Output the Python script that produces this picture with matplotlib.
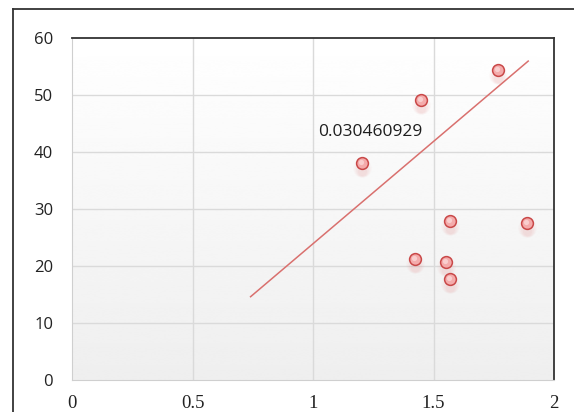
import numpy as np
import matplotlib
matplotlib.use('Agg')
import matplotlib.pyplot as plt
from matplotlib.lines import Line2D
from matplotlib.transforms import offset_copy

# scatter data
x_vals = [1.769, 1.448, 1.203, 1.567, 1.888, 1.423, 1.551, 1.567]
y_vals = [54.3, 49.0, 38.0, 27.9, 27.6, 21.2, 20.6, 17.7]

# trend line endpoints
trend_x = [0.741, 1.893]
trend_y = [14.6, 55.9]

label_text = '0.030460929'
label_pos = (1.02, 43.5)

x_ticks = [0, 0.5, 1, 1.5, 2]
x_labels = ['0', '0.5', '1', '1.5', '2']
y_ticks = [0, 10, 20, 30, 40, 50, 60]

W, H = 574, 412
fig = plt.figure(figsize=(W / 100, H / 100), dpi=100, facecolor='white')
ax = fig.add_axes([72 / W, 1 - 380 / H, (554 - 72) / W, (380 - 37.7) / H])

# vertical white -> light grey gradient behind the plot
grad = np.linspace(1.0, 0.935, 256).reshape(-1, 1)
ax.imshow(grad, cmap='gray', vmin=0, vmax=1, extent=[0, 2, 0, 60],
          origin='upper', aspect='auto', zorder=0, interpolation='bicubic')
ax.set_xlim(0, 2)
ax.set_ylim(0, 60)

for v in [0.5, 1, 1.5]:
    ax.axvline(v, color='#dadada', lw=1.0, zorder=1)
for v in [10, 20, 30, 40, 50]:
    ax.axhline(v, color='#dadada', lw=1.0, zorder=1)

ax.plot(trend_x, trend_y, color='#d9706e', lw=1.1, zorder=3)

# soft shadows under the points
for dy, s, a in [(-5, 180, 0.04), (-6, 130, 0.06), (-7, 85, 0.07), (-8, 45, 0.08)]:
    tr = offset_copy(ax.transData, fig=fig, x=0, y=dy, units='dots')
    ax.scatter(x_vals, y_vals, s=s, color='#e48888', alpha=a, lw=0,
               transform=tr, zorder=2)

ax.scatter(x_vals, y_vals, s=72, facecolor='#f4abab', edgecolor='#c94848',
           linewidth=1.1, zorder=4)
hl = offset_copy(ax.transData, fig=fig, x=-1, y=1, units='dots')
ax.scatter(x_vals, y_vals, s=14, color='#fbd8d8', lw=0, alpha=0.8,
           transform=hl, zorder=5)

ax.text(label_pos[0], label_pos[1], label_text, family='Open Sans',
        fontsize=12.5, color='#1e1e1e', ha='left', va='center', zorder=6)

ax.set_xticks(x_ticks)
ax.set_xticklabels(x_labels)
ax.set_yticks(y_ticks)
ax.tick_params(length=0, colors='#222222')
ax.tick_params(axis='x', pad=10.5, labelsize=13.5)
ax.tick_params(axis='y', pad=13.5, labelsize=12)
for lbl in ax.get_xticklabels():
    lbl.set_family('Liberation Serif')
for lbl in ax.get_yticklabels():
    lbl.set_family('Open Sans')

ax.spines['top'].set_color('#333333')
ax.spines['right'].set_color('#333333')
ax.spines['top'].set_linewidth(1.3)
ax.spines['right'].set_linewidth(1.3)
ax.spines['left'].set_color('#cfcfcf')
ax.spines['bottom'].set_color('#cfcfcf')

# outer chart frame
fig.add_artist(Line2D([13 / W, 13 / W], [0, 1 - 9 / H], color='#333333', lw=1.3))
fig.add_artist(Line2D([13 / W, 1], [1 - 9 / H, 1 - 9 / H], color='#333333', lw=1.3))

fig.savefig('out.png', dpi=100, facecolor='white')
